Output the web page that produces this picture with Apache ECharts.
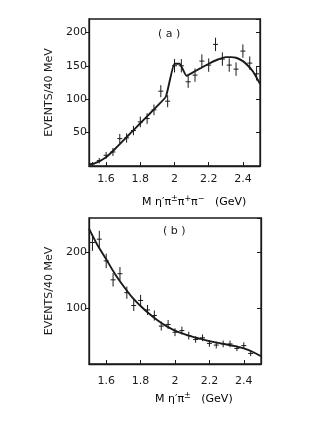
<!DOCTYPE html>
<html><head><meta charset="utf-8">
<script src="https://cdn.jsdelivr.net/npm/echarts@6/dist/echarts.min.js"></script>
<style>html,body{margin:0;padding:0;background:#fff}#c{width:309px;height:421px}</style>
</head><body><div id="c"></div>
<script>
// Panel (a): M(eta' pi± pi+ pi-)
const massA = [1.52,1.56,1.60,1.64,1.68,1.72,1.76,1.80,1.84,1.88,1.92,1.96,2.00,2.04,2.08,2.12,2.16,2.20,2.24,2.28,2.32,2.36,2.40,2.44,2.48];
const eventsA = [3,8,16,21,41,42,53,66,71,84,112,97,150,150,126,136,157,151,182,160,151,145,172,154,138];
const errorsA = [3,4,5,6,7,7,7,8,8,8,9,9,10,10,9,10,10,10,10,10,10,10,10,10,10];
const fitMassA = [1.50,1.53,1.56,1.60,1.65,1.70,1.75,1.80,1.85,1.90,1.95,2.00,2.03,2.07,2.10,2.15,2.20,2.25,2.30,2.33,2.36,2.40,2.43,2.46,2.50];
const fitA = [2,4,7,13,25,38,51,64,77,90,104,153,153,135,139,146,153,159,163,163,162,157,150,141,123];
// Panel (b): M(eta' pi±)
const massB = [1.52,1.56,1.60,1.64,1.68,1.72,1.76,1.80,1.84,1.88,1.92,1.96,2.00,2.04,2.08,2.12,2.16,2.20,2.24,2.28,2.32,2.36,2.40,2.44];
const eventsB = [218,224,185,151,162,128,105,114,97,87,68,71,57,60,51,44,47,37,34,36,36,28,33,19];
const errorsB = [15,15,13,12,12,11,10,10,9,9,8,8,7,7,7,6,6,6,6,6,6,5,6,5];
const fitMassB = [1.50,1.55,1.60,1.65,1.70,1.75,1.80,1.85,1.90,1.95,2.00,2.05,2.10,2.15,2.20,2.25,2.30,2.35,2.40,2.45,2.50];
const fitB = [243,213,188,162,140,120,104,90,78,68,60,54,49,45,41,38,35,32,28,22,14];
const xTicks = [1.6,1.8,2.0,2.2,2.4];
const yMaxA = 220, yMaxB = 262;

const FONT = 'DejaVu Sans';
const ink = '#1a1a1a';

function errSeries(xi, yi, xs, ys, es){
  return {
    type:'custom', xAxisIndex:xi, yAxisIndex:yi,
    data: xs.map((x,i)=>[x, ys[i], es[i]]),
    renderItem: function(params, api){
      const x = api.value(0), y = api.value(1), e = api.value(2);
      const p = api.coord([x,y]), lo = api.coord([x,y-e]), hi = api.coord([x,y+e]);
      const st = {stroke: ink, lineWidth: 1};
      return {type:'group', children:[
        {type:'line', shape:{x1:p[0],y1:lo[1],x2:p[0],y2:hi[1]}, style:st},
        {type:'line', shape:{x1:p[0]-2.5,y1:p[1],x2:p[0]+2.5,y2:p[1]}, style:st}
      ]};
    },
    z: 3
  };
}
function xAx(gi, margin){
  return {type:'value', gridIndex:gi, min:1.5, max:2.5,
    axisLine:{show:true, lineStyle:{color:ink, width:1.3}},
    axisTick:{show:true, inside:true, length:4, customValues:xTicks, lineStyle:{color:ink}},
    axisLabel:{show:true, customValues:xTicks, margin:margin, color:ink, fontFamily:FONT, fontSize:11, formatter:v=>String(+v.toFixed(1))},
    splitLine:{show:false}};
}
function yAx(gi, max, interval){
  return {type:'value', gridIndex:gi, min:0, max:max, interval:interval,
    name:'EVENTS/40 MeV', nameLocation:'middle', nameGap:28, nameRotate:90,
    nameTextStyle:{color:ink, fontFamily:FONT, fontSize:11},
    axisLine:{show:true, lineStyle:{color:ink, width:1.3}},
    axisTick:{show:true, inside:false, length:4, lineStyle:{color:ink}},
    axisLabel:{margin:2, color:ink, fontFamily:FONT, fontSize:11, showMaxLabel:false, showMinLabel:false,
      formatter:v=> (v===0 || v===max)?'':String(v)},
    splitLine:{show:false}};
}
function yRight(gi, max, interval){
  return {type:'value', gridIndex:gi, position:'right', min:0, max:max, interval:interval,
    axisLine:{show:true, lineStyle:{color:ink, width:1.3}},
    axisTick:{show:true, inside:true, length:4, lineStyle:{color:ink}},
    axisLabel:{show:false}, splitLine:{show:false}};
}
const rich = {
  n:{fontFamily:FONT, fontSize:11, color:ink},
  s:{fontFamily:FONT, fontSize:8, color:ink, verticalAlign:'top', lineHeight:14}
};
const chart = echarts.init(document.getElementById('c'), null, {renderer:'canvas'});
chart.setOption({
  animation:false,
  backgroundColor:'#fff',
  grid:[
    {left:89, top:19, width:171, height:147, show:true, borderColor:ink, borderWidth:1.3},
    {left:89, top:218, width:172, height:146, show:true, borderColor:ink, borderWidth:1.3}
  ],
  xAxis:[xAx(0,8), xAx(1,12)],
  yAxis:[yAx(0,yMaxA,50), yAx(1,yMaxB,100), yRight(0,yMaxA,50), yRight(1,yMaxB,100)],
  series:[
    {type:'line', xAxisIndex:0, yAxisIndex:0, data:fitMassA.map((x,i)=>[x,fitA[i]]), showSymbol:false, smooth:0.15,
     lineStyle:{color:ink, width:1.9}, z:2},
    errSeries(0,0,massA,eventsA,errorsA),
    {type:'line', xAxisIndex:1, yAxisIndex:1, data:fitMassB.map((x,i)=>[x,fitB[i]]), showSymbol:false, smooth:0.3,
     lineStyle:{color:ink, width:1.9}, z:2},
    errSeries(1,1,massB,eventsB,errorsB)
  ],
  graphic:[
    {type:'text', left:158, top:29, style:{text:'( a )', fontFamily:FONT, fontSize:11, fill:ink}},
    {type:'text', left:163, top:226, style:{text:'( b )', fontFamily:FONT, fontSize:11, fill:ink}},
    {type:'text', left:142, top:195, style:{text:'{n|M η′π}{s|±}{n|π}{s|+}{n|π}{s|−}{n|   (GeV)}', rich:rich}},
    {type:'text', left:155, top:392, style:{text:'{n|M η′π}{s|±}{n|   (GeV)}', rich:rich}}
  ]
});
</script></body></html>
